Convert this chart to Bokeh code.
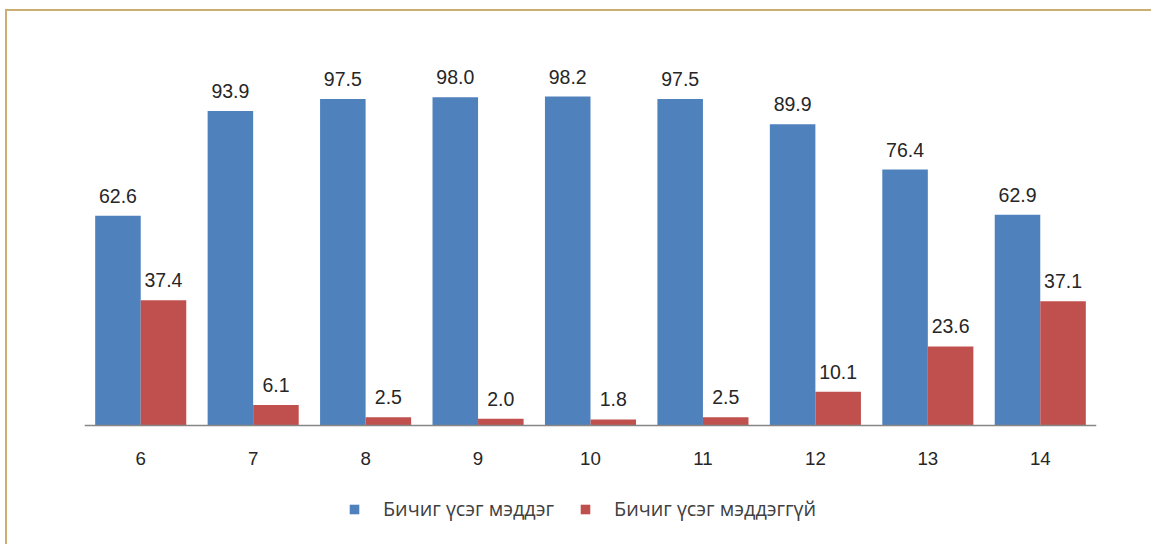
from bokeh.plotting import figure
from bokeh.models import ColumnDataSource, FactorRange, Range1d, LabelSet, Legend, LegendItem
from bokeh.core.properties import value
from bokeh.transform import dodge
from bokeh.embed import file_html
from bokeh.resources import INLINE

# ---- data ----
ages = ["6", "7", "8", "9", "10", "11", "12", "13", "14"]
literate = [62.6, 93.9, 97.5, 98.0, 98.2, 97.5, 89.9, 76.4, 62.9]
illiterate = [37.4, 6.1, 2.5, 2.0, 1.8, 2.5, 10.1, 23.6, 37.1]
series_names = ["Бичиг үсэг мэддэг", "Бичиг үсэг мэддэггүй"]
series_colors = ["#4F81BD", "#C0504D"]

src = ColumnDataSource(dict(
    age=ages,
    lit=literate,
    ill=illiterate,
    lit_txt=[f"{v:.1f}" for v in literate],
    ill_txt=[f"{v:.1f}" for v in illiterate],
))

W, H = 1151, 544
BORDER = "#CBAE72"
# frame spans from below the legend up to the top; y=0 sits on the axis line
p = figure(width=W, height=H, x_range=FactorRange(factors=ages, range_padding=0),
           y_range=Range1d(-35.52, 120), output_backend="svg", toolbar_location=None,
           min_border_left=84, min_border_right=55, min_border_top=23, min_border_bottom=0)
p.styles = {
    "background": (f"linear-gradient({BORDER}, {BORDER}) 6px 9px / calc(100% - 6px) 2px no-repeat, "
                   f"linear-gradient({BORDER}, {BORDER}) 5px 9px / 2px calc(100% - 9px) no-repeat, white"),
}
p.outline_line_color = None
p.background_fill_color = "white"
p.border_fill_alpha = 0
p.xgrid.visible = False
p.ygrid.visible = False
p.yaxis.visible = False

bw = 0.405
off = 0.2025
r1 = p.vbar(x=dodge("age", -off, range=p.x_range), top="lit", width=bw, source=src,
            fill_color=series_colors[0], line_color=None)
r2 = p.vbar(x=dodge("age", off, range=p.x_range), top="ill", width=bw, source=src,
            fill_color=series_colors[1], line_color=None)

for col, txt, o in (("lit", "lit_txt", -off), ("ill", "ill_txt", off)):
    ls = LabelSet(x=dodge("age", o, range=p.x_range), y=col, text=txt, source=src,
                  text_align="center", text_baseline="alphabetic", y_offset=13,
                  text_font=value("Liberation Sans"), text_font_size=value("19.5px"),
                  text_color="#262626")
    p.add_layout(ls)

ax = p.xaxis[0]
ax.fixed_location = 0
ax.axis_line_color = "#868686"
ax.axis_line_width = 1.5
ax.major_tick_line_color = None
ax.minor_tick_line_color = None
ax.major_tick_out = 0
ax.major_tick_in = 0
ax.major_label_standoff = 26
ax.major_label_text_font = "Liberation Sans"
ax.major_label_text_font_size = "18.7px"
ax.major_label_text_color = "#262626"

legend = Legend(items=[LegendItem(label=series_names[0], renderers=[r1]),
                       LegendItem(label=series_names[1], renderers=[r2])],
                orientation="horizontal", location=(264, 22),
                glyph_width=12, glyph_height=12, label_height=12,
                label_standoff=23, spacing=25, padding=0, margin=0,
                border_line_color=None, background_fill_alpha=0,
                label_text_font="Open Sans", label_text_font_size="19.8px",
                label_text_color="#404040")
p.add_layout(legend, "center")

open("out.html", "w").write(file_html(p, INLINE))
